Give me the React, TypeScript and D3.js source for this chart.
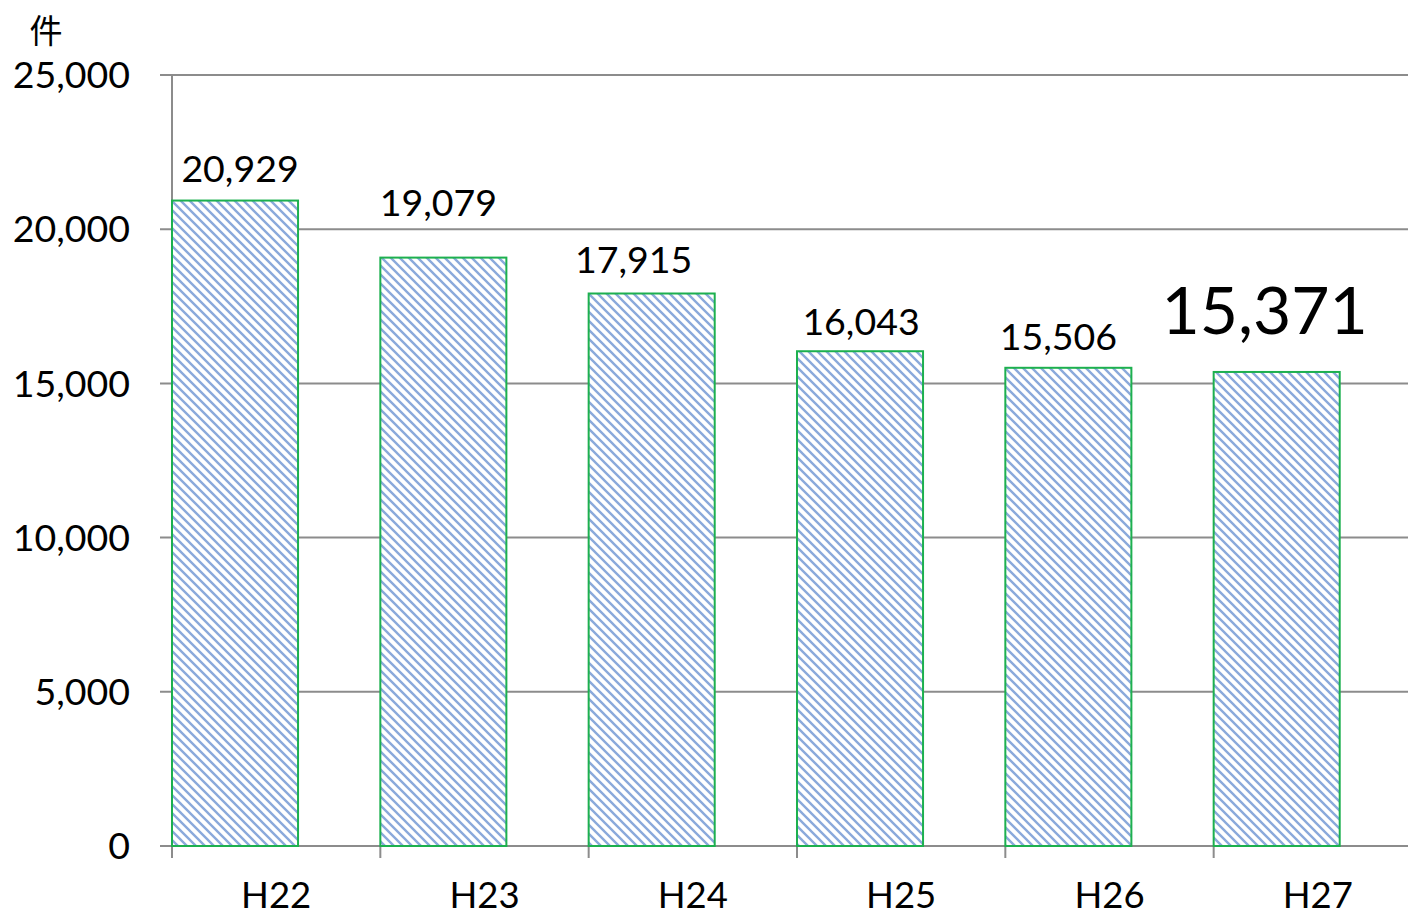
import React from "react";
import { scaleBand, scaleLinear, format } from "d3";

const categories = ["H22", "H23", "H24", "H25", "H26", "H27"];
const values = [20929, 19079, 17915, 16043, 15506, 15371];
const yTicks = [0, 5000, 10000, 15000, 20000, 25000];

// label nudges (px) as placed in the original
const labelDx = [5, -5, -18, 1, -10, -12];
const labelDy = [-19, -42, -21, -16, -18, -38];

const width = 1408;
const height = 916;
const margin = { top: 75, right: -14, bottom: 70, left: 172 };
const innerWidth = width - margin.left - margin.right;
const innerHeight = height - margin.top - margin.bottom;

const font = "Lato, 'Noto Sans', sans-serif";
const fmt = format(",");

export default function App() {
  const xScale = scaleBand().domain(categories).range([0, innerWidth]);
  const yScale = scaleLinear().domain([0, 25000]).range([innerHeight, 0]);
  const barW = xScale.bandwidth() * 0.605;

  return (
    <svg
      width={width}
      height={height}
      style={{ position: "absolute", left: 0, top: 0, background: "#fff" }}
    >
      <defs>
        <pattern id="hatch" patternUnits="userSpaceOnUse" width={9} height={9}>
          <rect width={9} height={9} fill="#fff" />
          <path
            d="M-2,-2 L11,11 M-2,7 L2,11 M7,-2 L11,2"
            stroke="#8aa9db"
            strokeWidth={2.4}
          />
        </pattern>
      </defs>
      <text x={46} y={43} fontSize={33} fontFamily="'Noto Sans CJK JP', sans-serif" textAnchor="middle">
        件
      </text>
      <g transform={`translate(${margin.left},${margin.top})`}>
        {yTicks.map((t) => (
          <g key={t} transform={`translate(0,${yScale(t)})`}>
            <line x1={-12} x2={innerWidth} stroke="#8c8c8c" strokeWidth={2} />
            <text x={-42} dy="0.35em" fontSize={37.5} fontFamily={font} textAnchor="end">
              {fmt(t)}
            </text>
          </g>
        ))}
        <line y1={0} y2={innerHeight + 12} stroke="#8c8c8c" strokeWidth={2} />
        {categories.map((c) => (
          <g key={c} transform={`translate(${xScale(c)},0)`}>
            <line y1={innerHeight} y2={innerHeight + 12} stroke="#8c8c8c" strokeWidth={2} />
            <text
              x={xScale.bandwidth() / 2}
              y={innerHeight + 62}
              fontSize={36.5}
              fontFamily={font}
              textAnchor="middle"
            >
              {c}
            </text>
          </g>
        ))}
        {values.map((v, i) => {
          const x = xScale(categories[i])!;
          const last = i === values.length - 1;
          return (
            <g key={categories[i]}>
              <rect
                x={x}
                y={yScale(v)}
                width={barW}
                height={innerHeight - yScale(v)}
                fill="url(#hatch)"
                stroke="#1db04f"
                strokeWidth={2}
              />
              <text
                x={x + barW / 2 + labelDx[i]}
                y={yScale(v) + labelDy[i]}
                fontSize={last ? 66 : 37.5}
                fontFamily={font}
                textAnchor="middle"
              >
                {fmt(v)}
              </text>
            </g>
          );
        })}
      </g>
    </svg>
  );
}
